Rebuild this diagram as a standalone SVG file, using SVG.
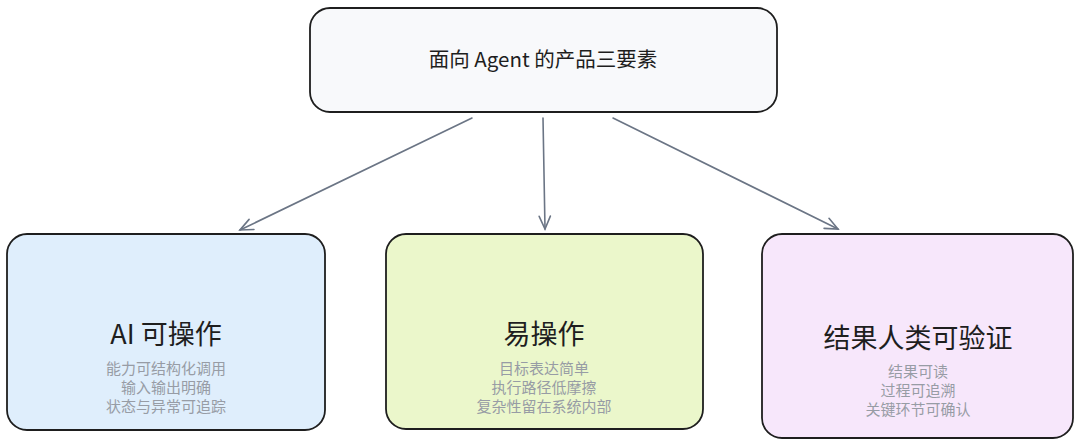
<svg xmlns="http://www.w3.org/2000/svg" width="1080" height="447" viewBox="0 0 1080 447">
<style>
.box{stroke:#1e1e1e;stroke-width:1.8}
.t{font-family:"Noto Sans CJK SC","Noto Sans",sans-serif;fill:#1e1e1e;text-anchor:middle}
.s{font-family:"Noto Sans CJK SC","Noto Sans",sans-serif;fill:#979ca5;text-anchor:middle;font-size:15px}
.c{stroke:#6b7585;stroke-width:1.6;fill:none;stroke-linecap:round}
</style>
<defs>
<marker id="ah" viewBox="0 0 20 20" refX="18" refY="10" markerWidth="16" markerHeight="16" markerUnits="userSpaceOnUse" orient="auto">
<path d="M2,3 L18,10 L2,17" fill="none" stroke="#6b7585" stroke-width="2" stroke-linecap="round"/>
</marker>
</defs>
<rect width="1080" height="447" fill="#ffffff"/>
<g id="connectors">
<path class="c" d="M472,118 L240,230" marker-end="url(#ah)"/>
<path class="c" d="M543,118 L545,229" marker-end="url(#ah)"/>
<path class="c" d="M613,118 L838,229" marker-end="url(#ah)"/>
</g>
<g id="top">
<rect class="box" x="310" y="8" width="467" height="104" rx="20" fill="#f8f9fb"/>
<text class="t" x="543" y="67" font-size="20.5">面向 Agent 的产品三要素</text>
</g>
<g id="ai">
<rect class="box" x="7" y="234" width="318" height="196" rx="20" fill="#dfeefc"/>
<text class="t" x="166" y="344" font-size="27">AI 可操作</text>
<text class="s" x="166" y="374">能力可结构化调用</text>
<text class="s" x="166" y="393">输入输出明确</text>
<text class="s" x="166" y="412">状态与异常可追踪</text>
</g>
<g id="easy">
<rect class="box" x="386" y="234" width="317" height="195" rx="20" fill="#ebf7cb"/>
<text class="t" x="544" y="344" font-size="27">易操作</text>
<text class="s" x="544" y="374">目标表达简单</text>
<text class="s" x="544" y="393">执行路径低摩擦</text>
<text class="s" x="544" y="412">复杂性留在系统内部</text>
</g>
<g id="human">
<rect class="box" x="762" y="234" width="311" height="204" rx="20" fill="#f7e7fb"/>
<text class="t" x="918" y="348" font-size="27">结果人类可验证</text>
<text class="s" x="918" y="377">结果可读</text>
<text class="s" x="918" y="396">过程可追溯</text>
<text class="s" x="918" y="415">关键环节可确认</text>
</g>
</svg>
